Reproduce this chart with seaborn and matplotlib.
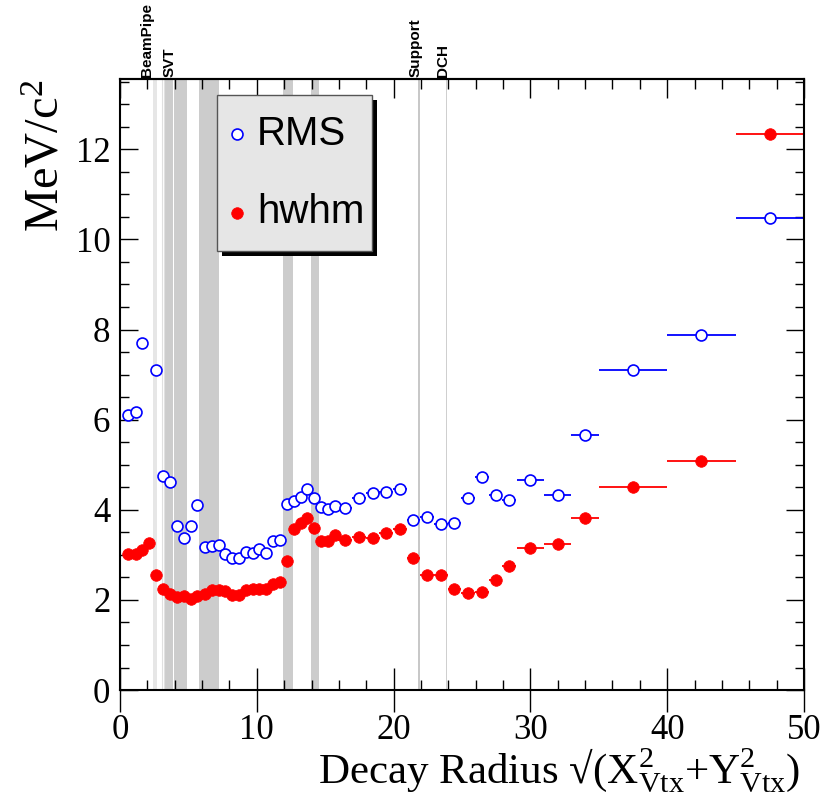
import numpy as np
import pandas as pd
import seaborn as sns
import matplotlib.pyplot as plt
from matplotlib.patches import Rectangle
from matplotlib.ticker import MultipleLocator

# decay radius bin centres (cm) and half widths
radius = [0.61, 1.15, 1.63, 2.15, 2.66, 3.15, 3.68, 4.2, 4.69, 5.17, 5.66, 6.2, 6.71,
          7.2, 7.69, 8.17, 8.69, 9.18, 9.69, 10.18, 10.66, 11.18, 11.69, 12.18, 12.69,
          13.2, 13.69, 14.18, 14.67, 15.18, 15.72,
          16.47, 17.47, 18.47, 19.45, 20.45, 21.45, 22.45, 23.45, 24.45, 25.45, 26.45,
          27.45, 28.45, 30, 32, 34, 37.5, 42.5, 47.5]
half_width = [0.25] * 31 + [0.5] * 13 + [1, 1, 1, 2.5, 2.5, 2.5]

# RMS (open blue) - the 2.15 bin is off scale
rms = [6.10, 6.16, 7.71, np.nan, 7.10, 4.74, 4.62, 3.64, 3.37, 3.64, 4.11, 3.18, 3.19,
       3.21, 3.02, 2.94, 2.94, 3.07, 3.03, 3.13, 3.04, 3.30, 3.34, 4.12, 4.20,
       4.29, 4.47, 4.26, 4.07, 4.02, 4.08,
       4.04, 4.26, 4.38, 4.40, 4.47, 3.77, 3.84, 3.68, 3.71, 4.27, 4.73,
       4.32, 4.22, 4.67, 4.32, 5.65, 7.11, 7.88, 10.48]

# half width at half maximum (filled red)
hwhm = [3.02, 3.02, 3.11, 3.27, 2.56, 2.25, 2.14, 2.06, 2.08, 2.02, 2.09, 2.14, 2.21,
        2.21, 2.19, 2.12, 2.12, 2.22, 2.24, 2.25, 2.25, 2.35, 2.39, 2.86, 3.58,
        3.71, 3.82, 3.59, 3.31, 3.31, 3.44,
        3.33, 3.39, 3.38, 3.49, 3.57, 2.92, 2.55, 2.56, 2.24, 2.16, 2.18,
        2.44, 2.76, 3.16, 3.25, 3.81, 4.50, 5.08, 12.33]

# detector material
band_lo = [2.39, 3.29, 3.98, 5.78, 11.93, 13.98, 21.76, 23.80]
band_hi = [2.69, 3.90, 4.88, 7.25, 12.66, 14.57, 21.91, 23.90]
band_col = ['#e6e6e6', '#cccccc', '#cccccc', '#cccccc', '#cccccc', '#cccccc',
            '#c8c8c8', '#cfcfcf']
thin_lines = [3.07, 3.20]
det_names = ['BeamPipe', 'SVT', 'Support', 'DCH']
det_x = [1.98, 3.6, 21.6, 23.6]

df = pd.DataFrame({'radius': radius, 'RMS': rms, 'hwhm': hwhm, 'dr': half_width})

sns.set_style('ticks')
plt.rcParams['font.family'] = ['Liberation Serif', 'DejaVu Serif']
plt.rcParams['mathtext.fontset'] = 'custom'
plt.rcParams['mathtext.rm'] = 'Liberation Serif'
plt.rcParams['mathtext.it'] = 'Liberation Serif:italic'
for key in ['text.color', 'axes.labelcolor', 'xtick.color', 'ytick.color', 'axes.edgecolor']:
    plt.rcParams[key] = 'black'

fig = plt.figure(figsize=(8.22, 7.98), dpi=100)
ax = fig.add_axes([0.146, 0.1353, 0.8321, 0.7657])

for lo, hi, c in zip(band_lo, band_hi, band_col):
    ax.axvspan(lo, hi, color=c, lw=0, zorder=0)
for xl in thin_lines:
    ax.axvline(xl, color='#e0e0e0', lw=0.8, zorder=0)

ax.errorbar(df.radius, df.RMS, xerr=df.dr, fmt='none', ecolor='blue', elinewidth=1.3, zorder=2)
ax.errorbar(df.radius, df.hwhm, xerr=df.dr, fmt='none', ecolor='red', elinewidth=1.3, zorder=2)
sns.scatterplot(data=df, x='radius', y='RMS', marker='o', s=62, color='white',
                edgecolor='blue', linewidth=1.2, label='RMS', ax=ax, zorder=3)
sns.scatterplot(data=df, x='radius', y='hwhm', marker='o', s=70, color='red',
                edgecolor='red', linewidth=0.5, label='hwhm', ax=ax, zorder=3)

ax.set_xlim(0, 50)
ax.set_ylim(0, 13.56)
ax.xaxis.set_major_locator(MultipleLocator(10))
ax.xaxis.set_minor_locator(MultipleLocator(2))
ax.yaxis.set_major_locator(MultipleLocator(2))
ax.yaxis.set_minor_locator(MultipleLocator(0.5))
ax.tick_params(axis='x', which='major', direction='inout', length=31, width=1,
               labelsize=25, pad=2, top=False)
ax.tick_params(axis='x', which='minor', direction='in', length=7, width=1, top=False)
ax.tick_params(axis='y', which='major', direction='in', length=13, width=1,
               labelsize=25, pad=7, right=True)
ax.tick_params(axis='y', which='minor', direction='in', length=6.5, width=1, right=True)
for sp in ax.spines.values():
    sp.set_linewidth(1.5)

top = ax.secondary_xaxis('top')
top.xaxis.set_major_locator(MultipleLocator(10))
top.xaxis.set_minor_locator(MultipleLocator(2))
top.tick_params(which='major', direction='in', length=14, width=1, labeltop=False)
top.tick_params(which='minor', direction='in', length=7, width=1)
top.spines['top'].set_linewidth(1.5)

ax.set_ylabel('MeV/c$^{2}$', fontsize=35, loc='top')
ax.yaxis.set_label_coords(-0.076, 1.0)
ax.set_xlabel('Decay Radius \u221a(X$^{2}_{\\rm Vtx}$+Y$^{2}_{\\rm Vtx}$)', fontsize=31, loc='right')
ax.xaxis.label.set_va('baseline')
ax.xaxis.set_label_coords(0.994, -0.152)

for name, xv in zip(det_names, det_x):
    ax.text(xv, 1.004, name, transform=ax.get_xaxis_transform(), rotation=90,
            ha='center', va='bottom', fontsize=11, fontweight='bold', family='Liberation Sans')

# legend box with ROOT-like drop shadow
ax.add_patch(Rectangle((0.1491, 0.7103), 0.2266, 0.2553, transform=ax.transAxes,
                       facecolor='black', edgecolor='none', zorder=4))
ax.add_patch(Rectangle((0.1418, 0.7185), 0.2266, 0.2553, transform=ax.transAxes,
                       facecolor='#e6e6e6', edgecolor='#555555', lw=1, zorder=5))
leg = ax.legend(loc='center', bbox_to_anchor=(0.257, 0.8462), borderaxespad=0,
                prop={'family': 'Liberation Sans', 'size': 29}, frameon=False,
                labelspacing=1.0, borderpad=0, handlelength=0.5, handletextpad=0.25,
                scatterpoints=1)
leg.set_zorder(6)

fig.savefig('out.png', dpi=100)
